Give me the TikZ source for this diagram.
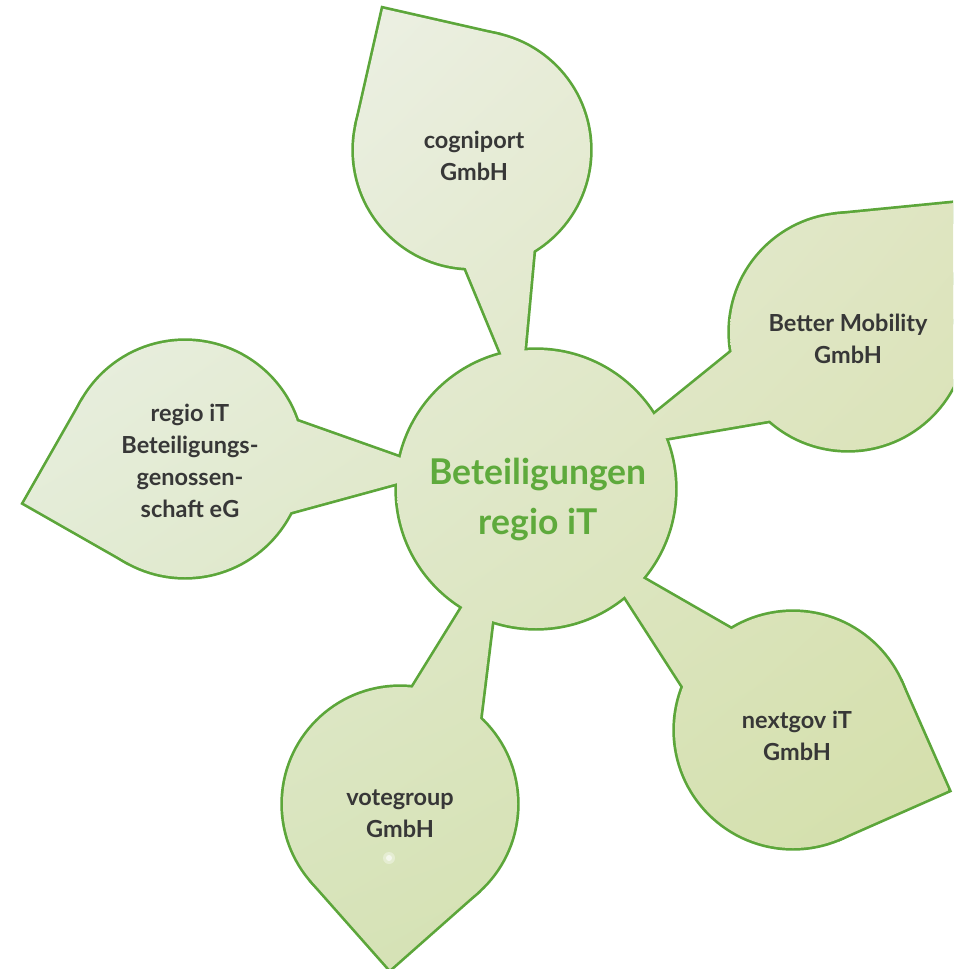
\documentclass[tikz,border=0pt]{standalone}
\usepackage{fontspec}
\setmainfont{Lato}
\usetikzlibrary{shadings}
\definecolor{leafline}{RGB}{92,166,58}
\definecolor{labeltext}{RGB}{55,55,55}
\definecolor{hubtext}{RGB}{94,170,60}
\definecolor{fillUL}{RGB}{242,245,244}
\definecolor{fillUR}{RGB}{226,231,200}
\definecolor{fillLL}{RGB}{216,229,192}
\definecolor{fillLR}{RGB}{210,222,166}

% a leaf is a disk plus the square that forms its pointed tip
\newcommand\lfdisk[2]{(#1) circle[radius=#2]}
\newcommand\lfsquare[3]{(#1) -- ++({#3-45}:#2) -- ++({#3+45}:#2) -- ++({#3+135}:#2) -- cycle}

\tikzset{
  outl/.style={draw=leafline, line width=5.4pt, line join=miter},
  bodyshade/.style={upper left=fillUL, upper right=fillUR, lower left=fillLL, lower right=fillLR},
  label/.style={text=labeltext, font=\bfseries\fontsize{23.5}{32}\selectfont, align=center},
  hub/.style={text=hubtext, font=\bfseries\fontsize{35.5}{50}\selectfont, align=center}
}
% fill one piece of the body with the common gradient
\newcommand\bodyfill[1]{\begin{scope}\clip #1; \shade[bodyshade] (0,0) rectangle (953,969);\end{scope}}

\begin{document}
\begin{tikzpicture}[x=1pt,y=-1pt]
\useasboundingbox (0,0) rectangle (953,969);
\clip (0,0) rectangle (953,969);

% outline pass: wide strokes, inner halves get covered by the fills
\draw[outl] (536,489) circle[radius=139];
% stems
\draw[outl] (455,242) -- (506,365) -- (523,365) -- (535,235) -- cycle;
\draw[outl] (640,426) -- (750,337) -- (790,417) -- (650,441) -- cycle;
\draw[outl] (630,571) -- (750,640) -- (695,705) -- (617,584) -- cycle;
\draw[outl] (470,595) -- (405,700) -- (478,735) -- (494,605) -- cycle;
\draw[outl] (285,417) -- (415,463) -- (412,479) -- (280,515) -- cycle;
% leaves
\draw[outl] \lfdisk{472,150}{118};   \draw[outl] \lfsquare{472,150}{118}{237.8};
\draw[outl] \lfdisk{848,332}{118};   \draw[outl] \lfsquare{848,332}{118}{-50.6};
\draw[outl] \lfdisk{185,459}{118};   \draw[outl] \lfsquare{185,459}{118}{164.7};
\draw[outl] \lfdisk{400,804}{117};   \draw[outl] \lfsquare{400,804}{117}{93.5};
\draw[outl] \lfdisk{793,730}{118};   \draw[outl] \lfsquare{793,730}{118}{21.2};

% fill pass
\bodyfill{(536,489) circle[radius=139]}
\bodyfill{(455,242) -- (506,365) -- (523,365) -- (535,235) -- cycle}
\bodyfill{(640,426) -- (750,337) -- (790,417) -- (650,441) -- cycle}
\bodyfill{(630,571) -- (750,640) -- (695,705) -- (617,584) -- cycle}
\bodyfill{(470,595) -- (405,700) -- (478,735) -- (494,605) -- cycle}
\bodyfill{(285,417) -- (415,463) -- (412,479) -- (280,515) -- cycle}
\bodyfill{\lfdisk{472,150}{118}} \bodyfill{\lfsquare{472,150}{118}{237.8}}
\bodyfill{\lfdisk{848,332}{118}} \bodyfill{\lfsquare{848,332}{118}{-50.6}}
\bodyfill{\lfdisk{185,459}{118}} \bodyfill{\lfsquare{185,459}{118}{164.7}}
\bodyfill{\lfdisk{400,804}{117}} \bodyfill{\lfsquare{400,804}{117}{93.5}}
\bodyfill{\lfdisk{793,730}{118}} \bodyfill{\lfsquare{793,730}{118}{21.2}}

% small highlight
\fill[white, opacity=0.35] (389,858) circle[radius=6];
\fill[white, opacity=0.6] (389,858) circle[radius=3];

% texts
\node[hub] (hubtxt) at (538,500) {Beteiligungen\\regio iT};
\node[label] (cogniport) at (474,156) {cogniport\\GmbH};
\node[label] (bettermob) at (848,339) {Better Mobility\\GmbH};
\node[label] (regioeg) at (190,461) {regio iT\\Beteiligungs-\\genossen-\\schaft eG};
\node[label] (nextgov) at (797,736) {nextgov iT\\GmbH};
\node[label] (votegroup) at (400,814) {votegroup\\GmbH};
\end{tikzpicture}
\end{document}
